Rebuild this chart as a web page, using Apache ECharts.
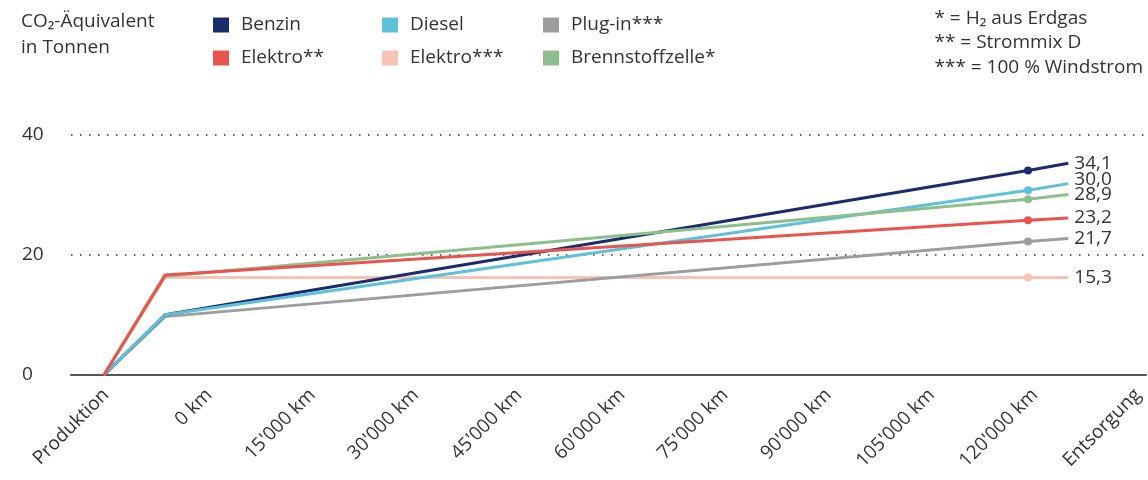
<!DOCTYPE html>
<html>
<head>
<meta charset="utf-8">
<script src="https://cdn.jsdelivr.net/npm/echarts@6/dist/echarts.min.js"></script>
<style>
  html, body { margin: 0; background: #ffffff; }
  #chart { width: 1148px; height: 480px; }
</style>
</head>
<body>
<div id="chart"></div>
<script>
// axis labels along the bottom
const stages = ['Produktion', '0 km', "15'000 km", "30'000 km", "45'000 km", "60'000 km",
  "75'000 km", "90'000 km", "105'000 km", "120'000 km", 'Entsorgung']

// x of each drawn point on the km scale: Produktion, 0 km, 120'000 km, Entsorgung
const stageKm = [-8500, 0, 120000, 125600]

// CO2 in tonnes
const benzin = [0, 10.0, 34.0, 35.2]
const diesel = [0, 10.0, 30.7, 31.8]
const plugIn = [0, 9.7, 22.2, 22.7]
const elektroMix = [0, 16.6, 25.7, 26.1]
const elektroWind = [0, 16.2, 16.2, 16.2]
const brennstoff = [0, 16.4, 29.2, 30.0]

// printed values next to line ends
const endLabels = {
  'Benzin': '34,1',
  'Diesel': '30,0',
  'Plug-in***': '21,7',
  'Elektro**': '23,2',
  'Elektro***': '15,3',
  'Brennstoffzelle*': '28,9',
}

const yTicks = [0, 20, 40]

const colors = {
  'Benzin': '#1b2c6c',
  'Diesel': '#5dc1d8',
  'Plug-in***': '#9d9d9d',
  'Elektro**': '#e9544f',
  'Elektro***': '#f7c3b6',
  'Brennstoffzelle*': '#8cbf8c',
}

const textColor = '#333333'
const font = 'Open Sans, Noto Sans, sans-serif'
const fontSize = 19

function makeSeries(name, values, labelOffset) {
  return {
    name,
    type: 'line',
    xAxisIndex: 0,
    yAxisIndex: 0,
    color: colors[name],
    lineStyle: { width: 3, color: colors[name] },
    symbolSize: 8,
    data: values.map((v, i) => ({
      value: [stageKm[i], v],
      symbol: i === 2 ? 'circle' : 'none',
    })),
    endLabel: {
      show: true,
      distance: 6,
      offset: labelOffset || [0, 0],
      formatter: endLabels[name],
      color: textColor,
      fontSize,
      fontFamily: font,
    },
    emphasis: { disabled: true },
  }
}

const chart = echarts.init(document.getElementById('chart'))
chart.setOption({
  animation: false,
  textStyle: { fontFamily: font, color: textColor },
  title: {
    text: 'CO₂-Äquivalent\nin Tonnen',
    left: 21,
    top: 9,
    padding: 0,
    textStyle: { fontSize, fontWeight: 'normal', color: textColor, lineHeight: 26 },
  },
  graphic: [
    {
      type: 'text',
      right: 5,
      top: 6,
      style: {
        text: '* = H₂ aus Erdgas\n** = Strommix D\n*** = 100 % Windstrom',
        fontSize,
        lineHeight: 24.5,
        fill: textColor,
        fontFamily: font,
      },
    },
  ],
  legend: [
    { data: ['Benzin', 'Elektro**'], left: 213 },
    { data: ['Diesel', 'Elektro***'], left: 382 },
    { data: ['Plug-in***', 'Brennstoffzelle*'], left: 543 },
  ].map(l => ({
    ...l,
    top: 14,
    padding: 0,
    orient: 'vertical',
    icon: 'rect',
    itemWidth: 16,
    itemHeight: 15,
    itemGap: 11,
    selectedMode: false,
    textStyle: { fontSize, lineHeight: 22, color: textColor, padding: [0, 0, 0, 7] },
  })),
  grid: [
    { left: 71, right: 2, top: 134.3, bottom: 105 },
    { left: 106, right: 10, top: 134.3, bottom: 105 },
  ],
  xAxis: [
    {
      type: 'value',
      gridIndex: 0,
      min: -13070,
      max: 136400,
      axisLine: { show: true, lineStyle: { color: '#555555', width: 2 } },
      axisTick: { show: false },
      axisLabel: { show: false },
      splitLine: { show: false },
    },
    {
      type: 'category',
      gridIndex: 1,
      data: stages,
      boundaryGap: false,
      axisLine: { show: false },
      axisTick: { show: false },
      axisLabel: { rotate: 45, margin: 17, fontSize, color: textColor, interval: 0 },
    },
  ],
  yAxis: [
    {
      type: 'value',
      gridIndex: 0,
      min: yTicks[0],
      max: yTicks[yTicks.length - 1],
      interval: 20,
      axisLine: { show: false },
      axisTick: { show: false },
      axisLabel: { align: 'left', margin: 49, fontSize, color: textColor },
      splitLine: { lineStyle: { color: '#333333', width: 1.5, type: [1.5, 7.5] } },
    },
    { type: 'value', gridIndex: 1, show: false },
  ],
  series: [
    makeSeries('Elektro***', elektroWind),
    makeSeries('Plug-in***', plugIn),
    makeSeries('Benzin', benzin),
    makeSeries('Diesel', diesel, [0, -4]),
    makeSeries('Brennstoffzelle*', brennstoff),
    makeSeries('Elektro**', elektroMix),
  ],
})
</script>
</body>
</html>
